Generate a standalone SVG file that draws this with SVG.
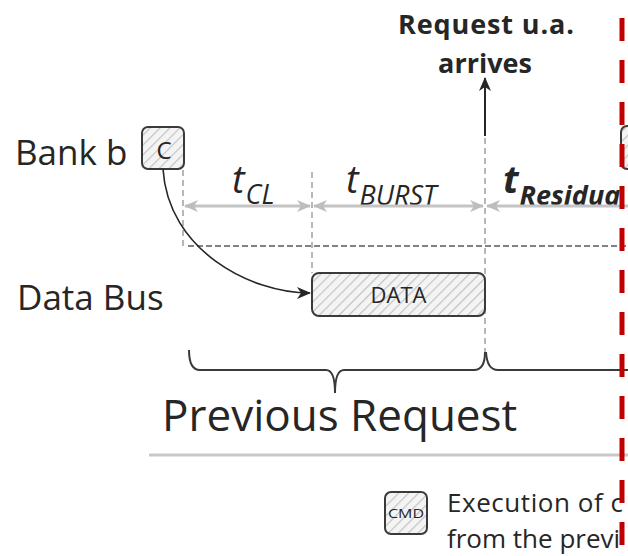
<svg xmlns="http://www.w3.org/2000/svg" width="628" height="556" viewBox="0 0 628 556">
  <style>
    .lbl { font-family: "Open Sans", "Noto Sans", sans-serif; fill: #262626; }
    .box { stroke: #3a3a3a; stroke-width: 2; fill: url(#hatch); }
    .guide { stroke: #a6a6a6; stroke-width: 1.6; stroke-dasharray: 6 4; fill: none; }
    .dim { stroke: #c4c4c4; stroke-width: 3; fill: none; marker-start: url(#dimHead); marker-end: url(#dimHead); }
    .brace { stroke: #3a3a3a; stroke-width: 2; fill: none; }
    .tsym { font-style: italic; font-size: 38px; }
    .tsub { font-style: italic; font-size: 27px; }
  </style>
  <defs>
    <pattern id="hatch" patternUnits="userSpaceOnUse" width="7" height="7" patternTransform="rotate(45)">
      <rect width="7" height="7" fill="#f4f4f4"/>
      <line x1="0" y1="0" x2="0" y2="7" stroke="#c2c2c2" stroke-width="2.4"/>
    </pattern>
    <marker id="dimHead" viewBox="0 0 14 14" refX="13" refY="7" markerWidth="14" markerHeight="14" markerUnits="userSpaceOnUse" orient="auto-start-reverse">
      <path d="M0,1 L14,7 L0,13 L4,7 z" fill="#bdbdbd"/>
    </marker>
    <marker id="blkHead" viewBox="0 0 14 12" refX="13" refY="6" markerWidth="14" markerHeight="12" markerUnits="userSpaceOnUse" orient="auto">
      <path d="M0,0 L14,6 L0,12 L4,6 z" fill="#262626"/>
    </marker>
  </defs>

  <rect width="628" height="556" fill="#ffffff"/>

  <!-- timing guides -->
  <g id="guides">
    <line class="guide" x1="183" y1="170" x2="183" y2="246"/>
    <line class="guide" x1="312" y1="172" x2="312" y2="273"/>
    <line class="guide" x1="485" y1="138" x2="485" y2="352"/>
    <line x1="188" y1="246" x2="628" y2="246" stroke="#5a5a5a" stroke-width="1.5" stroke-dasharray="6 3"/>
  </g>

  <!-- bank b -->
  <g id="bank">
    <text class="lbl" x="15" y="165" font-size="35">Bank b</text>
    <rect class="box" x="142" y="127" width="42" height="42" rx="6"/>
    <text class="lbl" x="164" y="159" font-size="24" text-anchor="middle">C</text>
  </g>

  <!-- next command box, mostly hidden behind the boundary -->
  <g id="nextCmd">
    <rect class="box" x="621" y="126" width="40" height="43" rx="6"/>
  </g>

  <!-- data bus -->
  <g id="databus">
    <text class="lbl" x="17" y="310" font-size="35">Data Bus</text>
    <rect class="box" x="312" y="273" width="173" height="43" rx="7"/>
    <text class="lbl" x="398.5" y="303" font-size="22" text-anchor="middle">DATA</text>
  </g>

  <!-- request arrival note -->
  <g id="arrival">
    <text class="lbl" x="486" y="34" font-size="27" font-weight="bold" text-anchor="middle" textLength="176">Request u.a.</text>
    <text class="lbl" x="485" y="73" font-size="27" font-weight="bold" text-anchor="middle">arrives</text>
  </g>

  <!-- interval labels -->
  <g id="timings">
    <text class="lbl" x="232" y="193"><tspan class="tsym">t</tspan><tspan class="tsub" dy="11" dx="1">CL</tspan></text>
    <text class="lbl" x="346" y="193"><tspan class="tsym">t</tspan><tspan class="tsub" dy="12" dx="1">BURST</tspan></text>
    <text class="lbl" x="503" y="193" font-weight="bold"><tspan class="tsym">t</tspan><tspan class="tsub" dy="12" dx="1">Residua</tspan></text>
  </g>

  <!-- connectors -->
  <g id="connectors">
    <path d="M163,169 C168,250 250,293 310,293" fill="none" stroke="#262626" stroke-width="1.6" marker-end="url(#blkHead)"/>
    <line x1="485" y1="136" x2="485" y2="78" stroke="#262626" stroke-width="2" marker-end="url(#blkHead)"/>
    <line class="dim" x1="185" y1="206" x2="310" y2="206"/>
    <line class="dim" x1="314" y1="206" x2="483" y2="206"/>
    <line x1="487" y1="206" x2="640" y2="206" stroke="#c4c4c4" stroke-width="3" marker-start="url(#dimHead)"/>
  </g>

  <!-- request spans -->
  <g id="spans">
    <path class="brace" d="M189,350 Q189,370 200,370 L326,370 Q335,370 335,393 Q335,370 344,370 L474,370 Q485,370 485,352"/>
    <path class="brace" d="M486,352 Q487,370 498,370 L628,370"/>
    <text class="lbl" x="162" y="431" font-size="44">Previous Request</text>
    <line x1="149" y1="455" x2="628" y2="455" stroke="#c8c8c8" stroke-width="3"/>
  </g>

  <!-- legend -->
  <g id="legend">
    <rect class="box" x="385" y="492" width="42" height="42" rx="6"/>
    <text class="lbl" x="406" y="518" font-size="13" text-anchor="middle" textLength="36" lengthAdjust="spacingAndGlyphs">CMD</text>
    <text class="lbl" x="447" y="512" font-size="26" textLength="176">Execution of c</text>
    <text class="lbl" x="447" y="548" font-size="26">from the previ</text>
  </g>

  <!-- boundary to the next request -->
  <g id="boundary">
    <line x1="622" y1="-24" x2="622" y2="556" stroke="#c00000" stroke-width="5" stroke-dasharray="23 19"/>
  </g>
</svg>
